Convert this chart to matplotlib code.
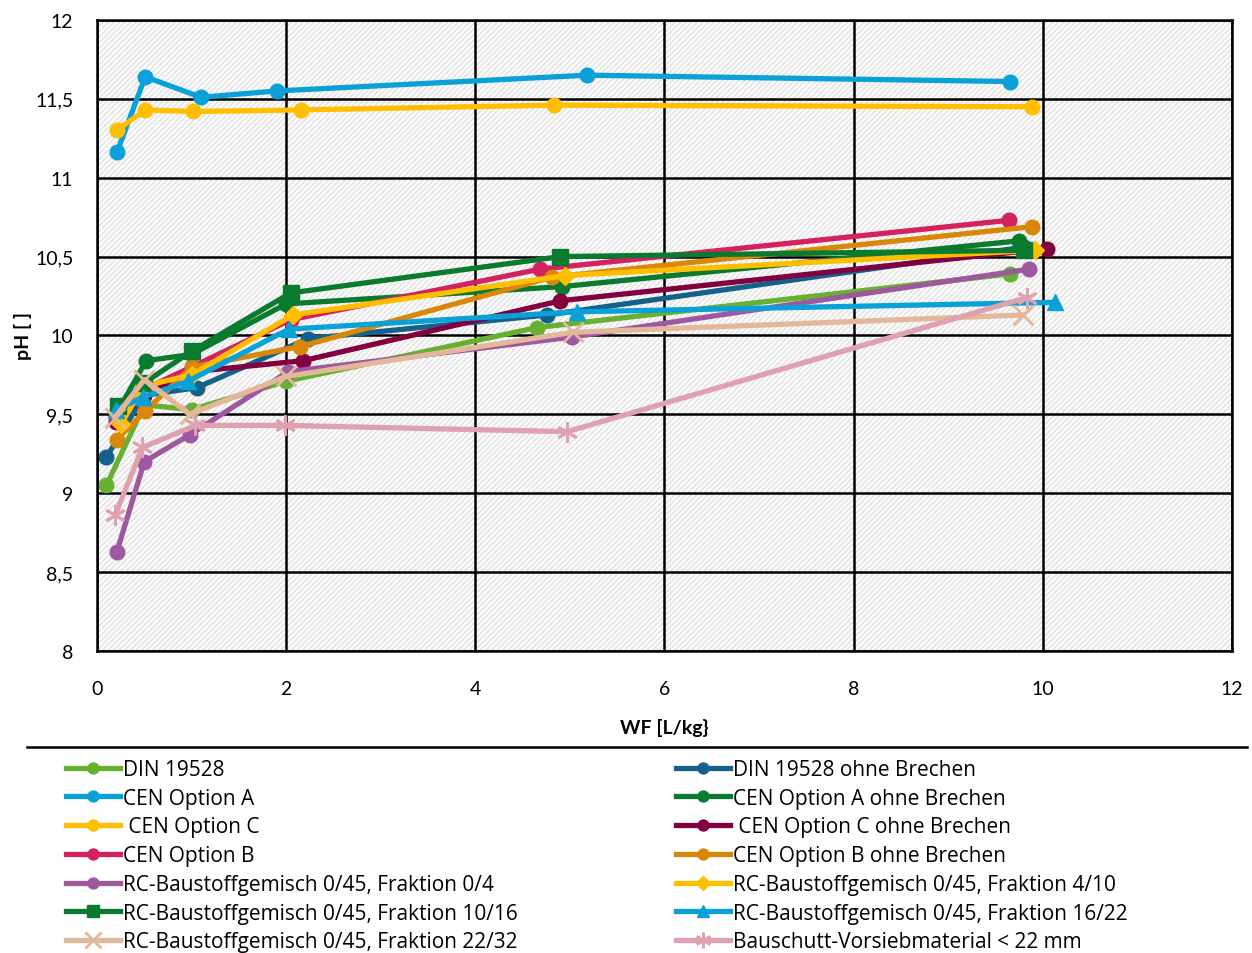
import matplotlib.pyplot as plt
import matplotlib
from matplotlib.patches import Rectangle
from matplotlib.lines import Line2D

matplotlib.rcParams['font.family'] = ['Lato', 'DejaVu Sans']
matplotlib.rcParams['hatch.linewidth'] = 1.4

# Messwerte (WF in L/kg, pH)
din_x = [0.1, 0.5, 1.0, 2.0, 4.65, 9.65]
din_y = [9.05, 9.56, 9.53, 9.71, 10.05, 10.39]
din_ob_x = [0.1, 0.5, 1.06, 2.23, 4.76, 9.8]
din_ob_y = [9.23, 9.62, 9.67, 9.98, 10.13, 10.56]
cena_x = [0.21, 0.51, 1.1, 1.9, 5.18, 9.65]
cena_y = [11.16, 11.64, 11.51, 11.55, 11.65, 11.61]
cena_ob_x = [0.2, 0.52, 1.0, 2.0, 4.92, 9.75]
cena_ob_y = [9.5, 9.84, 9.88, 10.2, 10.31, 10.6]
cenc_x = [0.21, 0.51, 1.01, 2.16, 4.83, 9.89]
cenc_y = [11.3, 11.43, 11.42, 11.43, 11.46, 11.45]
cenc_ob_x = [0.2, 0.5, 1.0, 2.18, 4.9, 10.04]
cenc_ob_y = [9.45, 9.62, 9.77, 9.84, 10.22, 10.55]
cenb_x = [0.2, 0.5, 1.0, 2.05, 4.68, 9.64]
cenb_y = [9.48, 9.66, 9.8, 10.1, 10.42, 10.73]
cenb_ob_x = [0.21, 0.51, 1.0, 2.15, 4.81, 9.89]
cenb_ob_y = [9.34, 9.52, 9.8, 9.93, 10.37, 10.69]
f04_x = [0.21, 0.5, 0.98, 2.02, 5.02, 9.85]
f04_y = [8.63, 9.2, 9.37, 9.77, 9.99, 10.42]
f410_x = [0.25, 0.5, 1.0, 2.07, 4.95, 9.92]
f410_y = [9.44, 9.68, 9.75, 10.13, 10.38, 10.54]
f1016_x = [0.22, 0.5, 1.0, 2.05, 4.9, 9.8]
f1016_y = [9.55, 9.7, 9.9, 10.27, 10.5, 10.54]
f1622_x = [0.2, 0.49, 0.96, 2.03, 5.07, 10.13]
f1622_y = [9.53, 9.61, 9.71, 10.04, 10.15, 10.21]
f2232_x = [0.19, 0.5, 0.98, 2.0, 5.03, 9.79]
f2232_y = [9.48, 9.72, 9.5, 9.74, 10.02, 10.13]
bs_x = [0.19, 0.48, 1.04, 1.99, 4.97, 9.83]
bs_y = [8.86, 9.29, 9.43, 9.43, 9.39, 10.24]

serien = [
    ('DIN 19528', din_x, din_y, '#66B032', 'o'),
    ('DIN 19528 ohne Brechen', din_ob_x, din_ob_y, '#16618B', 'o'),
    ('CEN Option A', cena_x, cena_y, '#0AA0D8', 'o'),
    ('CEN Option A ohne Brechen', cena_ob_x, cena_ob_y, '#0A7A2E', 'o'),
    (' CEN Option C', cenc_x, cenc_y, '#FFBE00', 'o'),
    (' CEN Option C ohne Brechen', cenc_ob_x, cenc_ob_y, '#820040', 'o'),
    ('CEN Option B', cenb_x, cenb_y, '#D4215F', 'o'),
    ('CEN Option B ohne Brechen', cenb_ob_x, cenb_ob_y, '#D9870A', 'o'),
    ('RC-Baustoffgemisch 0/45, Fraktion 0/4', f04_x, f04_y, '#9E58A0', 'o'),
    ('RC-Baustoffgemisch 0/45, Fraktion 4/10', f410_x, f410_y, '#FFBE00', 'D'),
    ('RC-Baustoffgemisch 0/45, Fraktion 10/16', f1016_x, f1016_y, '#0A7A2E', 's'),
    ('RC-Baustoffgemisch 0/45, Fraktion 16/22', f1622_x, f1622_y, '#0AA0D8', '^'),
    ('RC-Baustoffgemisch 0/45, Fraktion 22/32', f2232_x, f2232_y, '#E3B89A', 'x'),
    ('Bauschutt-Vorsiebmaterial < 22 mm', bs_x, bs_y, '#DFA0B0', (6, 2, 0)),
]

fig = plt.figure(figsize=(12.52, 9.54), dpi=100)
ax = fig.add_axes([0.0775, 0.3166, 0.9065, 0.6614])

bg = Rectangle((0, 0), 1, 1, transform=ax.transAxes, facecolor='#e6e6e6',
               edgecolor='white', hatch='//////', lw=0, zorder=0)
ax.add_patch(bg)

handles = {}
for name, xs, ys, col, m in serien:
    ms = 10.5
    mew = 1
    if m == 'D':
        ms = 9.5
    if m == 's':
        ms = 11.5
    if m == '^':
        ms = 12
    if m == 'x' or m == (6, 2, 0):
        ms = 15
        mew = 2
    ln, = ax.plot(xs, ys, color=col, lw=3.8, marker=m, markersize=ms,
                  markeredgecolor=col, markerfacecolor=col, markeredgewidth=mew,
                  label=name, zorder=3)
    handles[name] = ln

ax.set_xlim(0, 12)
ax.set_ylim(8, 12)
ax.set_xticks(range(0, 13, 2))
ax.set_yticks([8, 8.5, 9, 9.5, 10, 10.5, 11, 11.5, 12])
ax.set_yticklabels(['8', '8,5', '9', '9,5', '10', '10,5', '11', '11,5', '12'])
ax.tick_params(length=0, labelsize=14)
ax.tick_params(axis='x', pad=21)
ax.tick_params(axis='y', pad=17)
ax.grid(True, color='black', lw=1.8, zorder=1)
ax.set_axisbelow(False)
for s in ax.spines.values():
    s.set_linewidth(1.8)
    s.set_zorder(4)
ax.set_xlabel('WF [L/kg}', fontsize=14, fontweight='bold')
ax.set_ylabel('pH [ ]', fontsize=14, fontweight='bold')
ax.xaxis.set_label_coords(0.5, -0.106)
ax.yaxis.set_label_coords(-0.057, 0.5)

fig.add_artist(Line2D([27 / 1252, 1247 / 1252], [1 - 748 / 954, 1 - 748 / 954],
                      color='black', lw=1.8))

links = ['DIN 19528', 'CEN Option A', ' CEN Option C', 'CEN Option B',
         'RC-Baustoffgemisch 0/45, Fraktion 0/4',
         'RC-Baustoffgemisch 0/45, Fraktion 10/16',
         'RC-Baustoffgemisch 0/45, Fraktion 22/32']
rechts = ['DIN 19528 ohne Brechen', 'CEN Option A ohne Brechen',
          ' CEN Option C ohne Brechen', 'CEN Option B ohne Brechen',
          'RC-Baustoffgemisch 0/45, Fraktion 4/10',
          'RC-Baustoffgemisch 0/45, Fraktion 16/22',
          'Bauschutt-Vorsiebmaterial < 22 mm']

leg_kw = dict(frameon=False, prop={'family': ['Open Sans', 'DejaVu Sans'], 'size': 15},
              handlelength=2.6, handletextpad=0.15,
              labelspacing=0.37, borderpad=0, borderaxespad=0, markerscale=0.75,
              loc='upper left')
l1 = fig.legend([handles[n] for n in links], links,
                bbox_to_anchor=(66 / 1252, 1 - 760 / 954), **leg_kw)
l2 = fig.legend([handles[n] for n in rechts], rechts,
                bbox_to_anchor=(676 / 1252, 1 - 760 / 954), **leg_kw)

plt.savefig('out.png', dpi=100)
